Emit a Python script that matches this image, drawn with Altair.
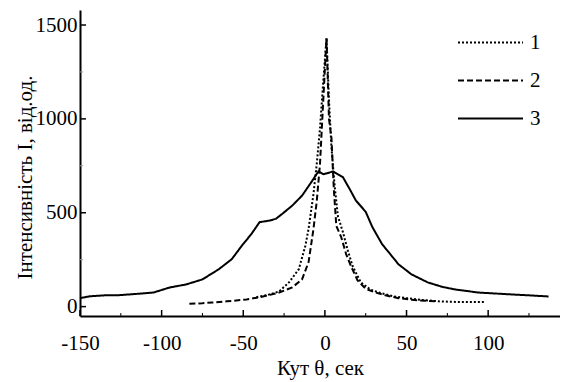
import altair as alt
import pandas as pd

# Curve 1 (dotted)
X1 = [-42, -35, -28, -22, -16, -12, -10, -7, -5, -3, -1, 1, 2.5, 4, 6, 8, 11, 14, 17, 22, 28, 35, 42, 50, 60, 70, 80, 98]
Y1 = [50, 62, 81, 129, 199, 323, 414, 600, 760, 950, 1200, 1430, 1100, 850, 640, 480, 398, 300, 215, 129, 90, 70, 55, 45, 35, 28, 25, 24]

# Curve 2 (dashed)
X2 = [-83, -75, -69, -60, -48, -40, -35, -28, -20, -14, -10, -7, -5, -3, -1, 1, 2.5, 4, 5.5, 7, 10, 13, 16, 20, 25, 31, 37, 45, 55, 68]
Y2 = [15, 18, 22, 28, 38, 50, 60, 75, 102, 145, 237, 414, 560, 760, 1100, 1430, 1000, 900, 620, 430, 370, 280, 215, 140, 95, 75, 60, 45, 35, 28]

# Curve 3 (solid)
X3 = [-150, -144, -135, -126, -115, -105, -95, -85, -75, -65, -57, -51, -45, -40, -34, -30, -26, -20, -14, -8, -4, -1, 2, 5, 8, 11, 15, 19, 25, 29, 35, 40, 45, 53, 63, 72, 80, 94, 104, 114, 125, 137]
Y3 = [45, 55, 60, 61, 68, 75, 102, 118, 145, 199, 253, 323, 387, 450, 458, 468, 495, 538, 591, 667, 720, 705, 712, 720, 705, 690, 629, 565, 505, 425, 333, 280, 226, 172, 129, 105, 91, 75, 70, 65, 60, 54]

SERIES = ["1", "2", "3"]
X_MAJOR = [-150, -100, -50, 0, 50, 100]
X_MINOR = [-125, -75, -25, 25, 75, 125]
Y_MAJOR = [0, 500, 1000, 1500]
Y_MINOR = [250, 750, 1250]

W, H = 480, 306
FONT = "Liberation Serif"

rows = []
for s, xs, ys in zip(SERIES, [X1, X2, X3], [Y1, Y2, Y3]):
    for x, y in zip(xs, ys):
        rows.append({"series": s, "x": x, "y": y})
df = pd.DataFrame(rows)

xscale = alt.Scale(domain=[-150, 144], nice=False, zero=False)
yscale = alt.Scale(domain=[-50, 1580], nice=False, zero=False)

lines = alt.Chart(df).mark_line(color="black").encode(
    x=alt.X("x:Q", scale=xscale,
            axis=alt.Axis(values=X_MAJOR, title="Кут θ, сек", tickSize=0, labelFlush=False,
                          labelPadding=16, titleY=58, titleBaseline="alphabetic",
                          labelExpr="datum.value < 0 ? '-' + abs(datum.value) : '' + datum.value")),
    y=alt.Y("y:Q", scale=yscale,
            axis=alt.Axis(values=Y_MAJOR, title="Інтенсивність І, від.од.", tickSize=0,
                          labelFlush=False, labelPadding=3, titleX=-55, titleY=167,
                          titleBaseline="middle", titleAlign="center", format="d")),
    strokeDash=alt.StrokeDash(
        "series:N",
        scale=alt.Scale(domain=SERIES, range=[[2, 2], [6, 3], [1, 0]]),
        legend=alt.Legend(title=None, orient="none", legendX=400, legendY=22,
                          symbolType="M-4,0H4", symbolSize=264, symbolStrokeWidth=2.2,
                          symbolStrokeColor="black", symbolFillColor="transparent",
                          labelOffset=29, rowPadding=16, labelFontSize=21,
                          labelFont=FONT, labelColor="black", padding=0),
    ),
    strokeWidth=alt.StrokeWidth("series:N",
                                scale=alt.Scale(domain=SERIES, range=[2, 2, 2.6]),
                                legend=None),
    order=alt.Order("x:Q"),
)

xmaj = alt.Chart(pd.DataFrame({"t": X_MAJOR})).mark_rule(color="black", strokeWidth=1.5).encode(
    x=alt.X("t:Q", scale=xscale), y=alt.value(H), y2=alt.value(H - 6))
xmin = alt.Chart(pd.DataFrame({"t": X_MINOR})).mark_rule(color="black", strokeWidth=1).encode(
    x=alt.X("t:Q", scale=xscale), y=alt.value(H), y2=alt.value(H - 3))
ymaj = alt.Chart(pd.DataFrame({"t": Y_MAJOR})).mark_rule(color="black", strokeWidth=1.5).encode(
    y=alt.Y("t:Q", scale=yscale), x=alt.value(0), x2=alt.value(6))
ymin = alt.Chart(pd.DataFrame({"t": Y_MINOR})).mark_rule(color="#999999", strokeWidth=1).encode(
    y=alt.Y("t:Q", scale=yscale), x=alt.value(0), x2=alt.value(3))

chart = alt.layer(lines, xmaj, xmin, ymaj, ymin).properties(
    width=W, height=H,
    autosize=alt.AutoSizeParams(type="none"),
    padding={"left": 72, "top": 2, "right": 0, "bottom": 64},
    background="white",
).configure_view(stroke=None).configure_axis(
    domainColor="black", domainWidth=2, grid=False,
    labelFont=FONT, labelFontSize=21, labelColor="black",
    titleFont=FONT, titleFontSize=21, titleColor="black", titleFontWeight="normal",
)

chart.save("out.html", embed_options={"renderer": "svg", "actions": False})
